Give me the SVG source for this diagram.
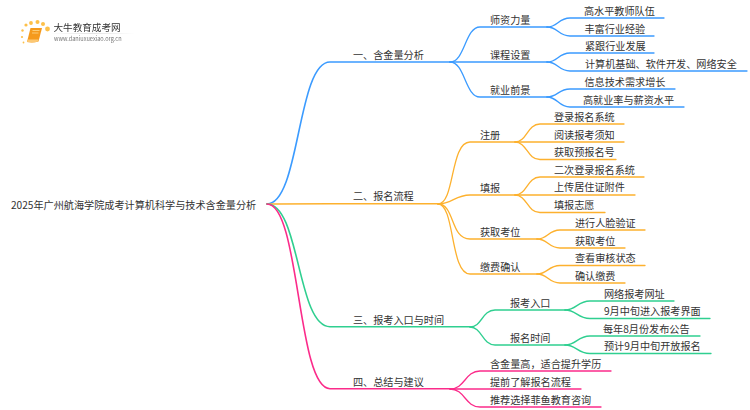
<svg xmlns="http://www.w3.org/2000/svg" width="750" height="410" viewBox="0 0 750 410">
<defs>
<linearGradient id="fade" x1="0" x2="1" y1="0" y2="0"><stop offset="0" stop-color="#ddd" stop-opacity="0"/><stop offset=".5" stop-color="#ddd"/><stop offset="1" stop-color="#ddd" stop-opacity="0"/></linearGradient>
<filter id="soft" x="-10%" y="-10%" width="120%" height="120%"><feGaussianBlur stdDeviation="0.35"/></filter>
</defs>
<style>
text{font-family:"Noto Sans CJK SC","Noto Sans",sans-serif;font-size:10.15px;fill:#333}
.l{fill:none;stroke-width:1.3;stroke-linecap:round}
.b{stroke:#3b9bff}.o{stroke:#fdb12e}.g{stroke:#2fcf90}.p{stroke:#fb2b8a}
.m{stroke-width:1.6}
.dot{fill:#fdc04a}
</style>
<rect width="750" height="410" fill="#fff"/>
<g id="logo" filter="url(#soft)">
<circle class="dot" cx="47.500" cy="29" r="2.4"/><circle class="dot" cx="43" cy="24" r="2"/><circle class="dot" cx="37.500" cy="22" r="2"/><circle class="dot" cx="31" cy="23" r="1.9"/><circle class="dot" cx="26" cy="25" r="1.6"/><circle class="dot" cx="22.500" cy="30.500" r="1.2"/><circle class="dot" cx="22" cy="37" r="1.1"/><circle class="dot" cx="23.500" cy="42.500" r="0.9"/>
<path d="M30.500 28 H42 L38.500 41.500 Q33 43 27 42 Z" fill="#f59a1e"/>
<path d="M27 42 L28 39.500 L38.500 39.500 L38 41.500 Q33 43 27 42 Z" fill="#fcc873"/>
<path d="M32.500 30.500 L39.500 30.500 M32 33 L38.500 33" stroke="#fdd27e" stroke-width="0.9" fill="none"/>
<text x="53.500" y="30.500" style="font-size:9.6px">大牛教育成考网</text>
<rect x="50" y="33" width="85" height="0.8" fill="url(#fade)"/>
<text x="54" y="41" style="font-size:5.6px;fill:#777">www.daniuxuexiao.org.cn</text>
</g>
<g id="connectors">
<path class="l m b" d="M267 204 C300 204 297 62 330 62 H450"/>
<path class="l b" d="M450 62 C465 62 465 27 480 27 H547"/>
<path class="l b" d="M450 62 H547"/>
<path class="l b" d="M450 62 C465 62 465 97 480 97 H547"/>
<path class="l b" d="M547 27 C558 27 558 18 570 18 H664"/>
<path class="l b" d="M547 27 C558 27 558 36 570 36 H654"/>
<path class="l b" d="M547 62 C558 62 558 53 570 53 H654"/>
<path class="l b" d="M547 62 C558 62 558 71 570 71 H747"/>
<path class="l b" d="M547 97 C558 97 558 89 570 89 H675"/>
<path class="l b" d="M547 97 C558 97 558 107 570 107 H684"/>
<path class="l m o" d="M267 204 C285 204 300 203.700 330 203.700 H438"/>
<path class="l o" d="M438 204 C455 204 450 142 470 142 H515"/>
<path class="l o" d="M438 204 C452 204 455 195 470 195 H515"/>
<path class="l o" d="M438 204 C455 204 450 239 470 239 H537"/>
<path class="l o" d="M438 204 C455 204 450 274 470 274 H537"/>
<path class="l o" d="M515 142 C527 142 527 124 540 124 H624"/>
<path class="l o" d="M515 142 H624"/>
<path class="l o" d="M515 142 C527 142 527 159.500 540 159.500 H616"/>
<path class="l o" d="M515 195 C527 195 527 177 540 177 H644"/>
<path class="l o" d="M515 195 H635"/>
<path class="l o" d="M515 195 C527 195 527 212.500 540 212.500 H605"/>
<path class="l o" d="M537 239 C548 239 548 230 560 230 H645"/>
<path class="l o" d="M537 239 C548 239 548 248 560 248 H625"/>
<path class="l o" d="M537 274 C548 274 548 265.500 560 265.500 H645"/>
<path class="l o" d="M537 274 C548 274 548 283 560 283 H625"/>
<path class="l m g" d="M267 204 C300 204 297 326.700 330 326.700 H470"/>
<path class="l g" d="M470 327 C482 327 482 310 495 310 H565"/>
<path class="l g" d="M470 327 C482 327 482 345 495 345 H565"/>
<path class="l g" d="M565 310 C577 310 577 301 590 301 H674"/>
<path class="l g" d="M565 310 C577 310 577 318.500 590 318.500 H710"/>
<path class="l g" d="M565 345 C577 345 577 336 590 336 H700"/>
<path class="l g" d="M565 345 C577 345 577 353.500 590 353.500 H711"/>
<path class="l m p" d="M267 204 C300 204 297 388.700 330 388.700 H450"/>
<path class="l p" d="M450 389 C465 389 465 371 480 371 H611"/>
<path class="l p" d="M450 389 H581"/>
<path class="l p" d="M450 389 C465 389 465 407 480 407 H601"/>
</g>
<g id="root"><text x="11" y="209">2025年广州航海学院成考计算机科学与技术含金量分析</text></g>
<g id="n1"><text x="353" y="59">一、含金量分析</text></g>
<g id="n1-1"><text x="490" y="24">师资力量</text></g>
<g id="n1-1-1"><text x="584" y="15">高水平教师队伍</text></g>
<g id="n1-1-2"><text x="584.500" y="33">丰富行业经验</text></g>
<g id="n1-2"><text x="490" y="59">课程设置</text></g>
<g id="n1-2-1"><text x="585" y="50">紧跟行业发展</text></g>
<g id="n1-2-2"><text x="585" y="68">计算机基础、软件开发、网络安全</text></g>
<g id="n1-3"><text x="490" y="94">就业前景</text></g>
<g id="n1-3-1"><text x="584.500" y="85.500">信息技术需求增长</text></g>
<g id="n1-3-2"><text x="583" y="103.500">高就业率与薪资水平</text></g>
<g id="n2"><text x="353" y="200">二、报名流程</text></g>
<g id="n2-1"><text x="480" y="138.500">注册</text></g>
<g id="n2-1-1"><text x="554" y="121">登录报名系统</text></g>
<g id="n2-1-2"><text x="554" y="138.500">阅读报考须知</text></g>
<g id="n2-1-3"><text x="554" y="156">获取预报名号</text></g>
<g id="n2-2"><text x="480" y="191.500">填报</text></g>
<g id="n2-2-1"><text x="554" y="173.500">二次登录报名系统</text></g>
<g id="n2-2-2"><text x="554" y="191">上传居住证附件</text></g>
<g id="n2-2-3"><text x="554" y="209">填报志愿</text></g>
<g id="n2-3"><text x="480" y="235.500">获取考位</text></g>
<g id="n2-3-1"><text x="575" y="226.500">进行人脸验证</text></g>
<g id="n2-3-2"><text x="575" y="244.500">获取考位</text></g>
<g id="n2-4"><text x="480" y="271">缴费确认</text></g>
<g id="n2-4-1"><text x="575" y="262">查看审核状态</text></g>
<g id="n2-4-2"><text x="575" y="280">确认缴费</text></g>
<g id="n3"><text x="353" y="323.500">三、报考入口与时间</text></g>
<g id="n3-1"><text x="510" y="306.500">报考入口</text></g>
<g id="n3-1-1"><text x="604" y="297.500">网络报考网址</text></g>
<g id="n3-1-2"><text x="604" y="315">9月中旬进入报考界面</text></g>
<g id="n3-2"><text x="510" y="341.500">报名时间</text></g>
<g id="n3-2-1"><text x="603" y="332.500">每年8月份发布公告</text></g>
<g id="n3-2-2"><text x="604" y="350">预计9月中旬开放报名</text></g>
<g id="n4"><text x="353" y="385.500">四、总结与建议</text></g>
<g id="n4-1"><text x="490" y="368">含金量高，适合提升学历</text></g>
<g id="n4-2"><text x="490" y="385.500">提前了解报名流程</text></g>
<g id="n4-3"><text x="490" y="403.500">推荐选择菲鱼教育咨询</text></g>
</svg>
